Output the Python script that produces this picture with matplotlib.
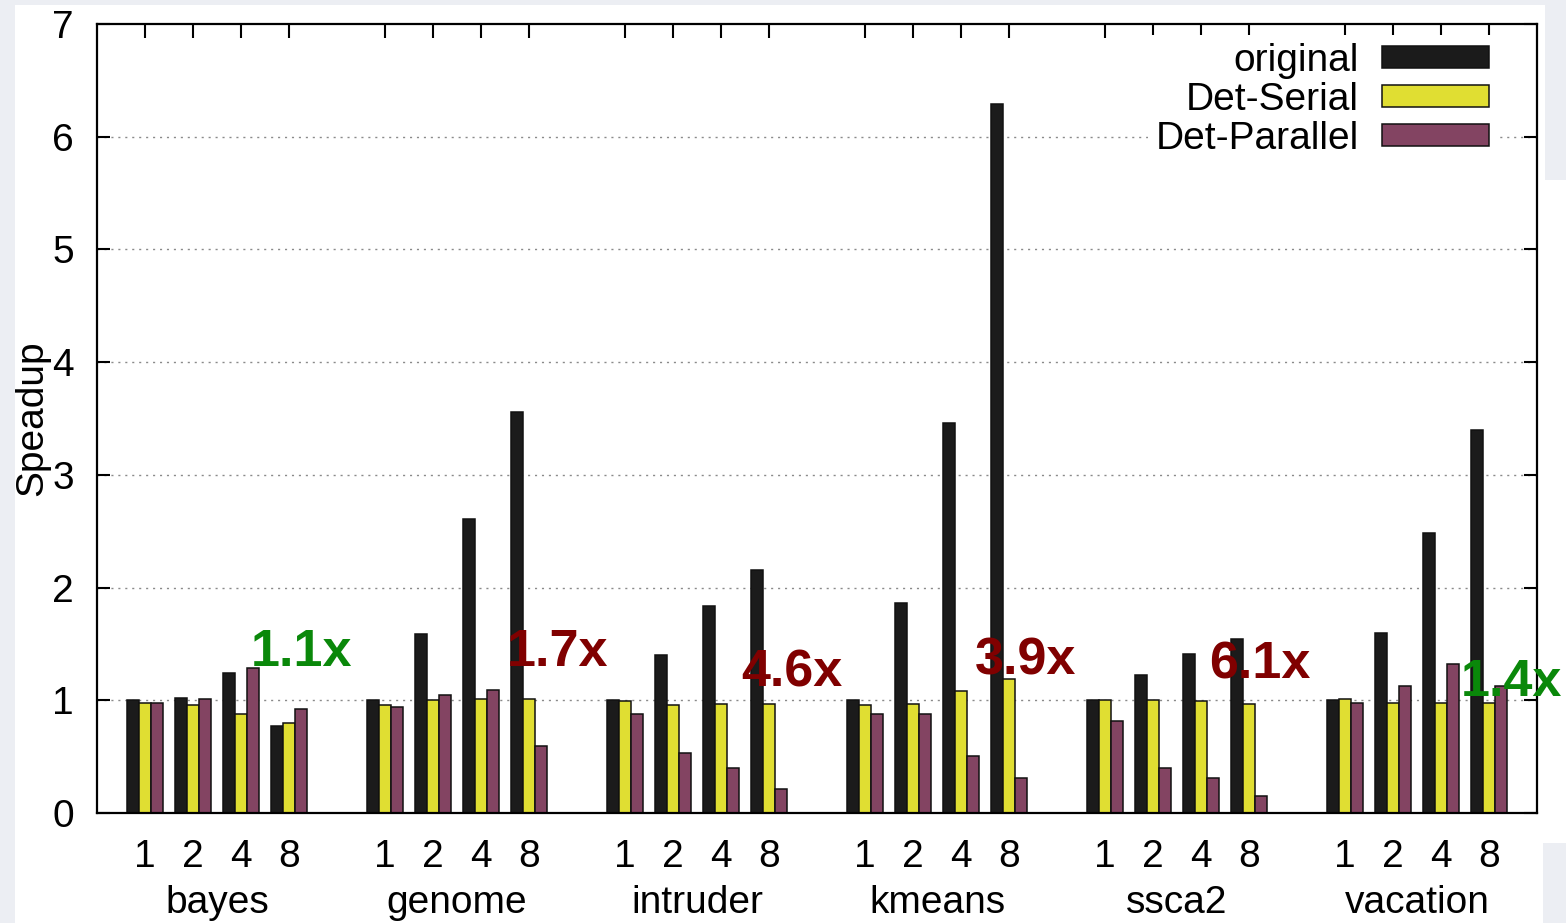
import numpy as np
import matplotlib.pyplot as plt
from matplotlib.patches import Patch, Rectangle

plt.rcParams['font.family'] = ['Liberation Sans', 'DejaVu Sans']

benchmarks = ['bayes', 'genome', 'intruder', 'kmeans', 'ssca2', 'vacation']
threads = ['1', '2', '4', '8']

# speedup per benchmark, per thread count (1, 2, 4, 8)
original = [
    [1.00, 1.02, 1.24, 0.77],
    [1.00, 1.59, 2.61, 3.56],
    [1.00, 1.40, 1.84, 2.16],
    [1.00, 1.86, 3.46, 6.29],
    [1.00, 1.22, 1.41, 1.54],
    [1.00, 1.60, 2.48, 3.40],
]
det_serial = [
    [0.98, 0.96, 0.88, 0.80],
    [0.96, 1.00, 1.01, 1.01],
    [0.99, 0.96, 0.97, 0.97],
    [0.96, 0.97, 1.08, 1.19],
    [1.00, 1.00, 0.99, 0.97],
    [1.01, 0.98, 0.98, 0.98],
]
det_parallel = [
    [0.98, 1.01, 1.29, 0.92],
    [0.94, 1.05, 1.09, 0.59],
    [0.88, 0.53, 0.40, 0.21],
    [0.88, 0.88, 0.51, 0.31],
    [0.82, 0.40, 0.31, 0.15],
    [0.98, 1.13, 1.32, 1.13],
]
series_names = ['original', 'Det-Serial', 'Det-Parallel']
series_colors = ['#1b1b1b', '#e0de32', '#834462']

ratio_labels = ['1.1x', '1.7x', '4.6x', '3.9x', '6.1x', '1.4x']
ratio_colors = ['#0a880a', '#800000', '#800000', '#800000', '#800000', '#0a880a']
# label anchor: offset from group start (in slots) and baseline height
ratio_dx = [3.27, 3.60, 3.48, 3.35, 3.23, 3.46]
ratio_y = [1.30, 1.30, 1.12, 1.23, 1.19, 1.04]

FS = 28

fig = plt.figure(figsize=(15.66, 9.23), dpi=100, facecolor='white')
# light screenshot border
for r in [(0, 0, 15/1566, 1), (0, 918/923, 1, 5/923),
          (1545/1566, 743/923, 21/1566, 180/923), (1543/1566, 0, 23/1566, 80/923)]:
    fig.patches.append(Rectangle(r[:2], r[2], r[3], transform=fig.transFigure,
                                 facecolor='#eceef3', edgecolor='none', zorder=-10))

ax = fig.add_axes([97/1566, 110/923, 1440/1566, 789/923])

n_thr = len(threads)
slots = []
for g in range(len(benchmarks)):
    for t in range(n_thr):
        slots.append(g * (n_thr + 1) + t)
slots = np.array(slots)

w = 0.25
for k, data in enumerate([original, det_serial, det_parallel]):
    vals = np.array(data).ravel()
    ax.bar(slots + (k - 1) * w, vals, width=w, color=series_colors[k],
           edgecolor='#111111', linewidth=1.1, zorder=2)

for g in range(len(benchmarks)):
    gx = g * (n_thr + 1)
    ax.text(gx + ratio_dx[g], ratio_y[g], ratio_labels[g], color=ratio_colors[g],
            fontsize=37.5, fontweight='bold', ha='center', va='baseline', zorder=4)
    ax.text(gx + (n_thr - 1) / 2, -0.1267, benchmarks[g], fontsize=FS,
            ha='center', va='baseline', transform=ax.get_xaxis_transform())

ax.set_xlim(-1, slots[-1] + 1)
ax.set_ylim(0, 7)
ax.set_xticks(slots)
ax.set_xticklabels(threads * len(benchmarks))
ax.set_yticks(range(8))

ax.tick_params(axis='x', which='both', bottom=False, top=True, direction='in',
               length=10, width=1.5, labelsize=FS, pad=19)
ax.tick_params(axis='y', which='both', left=True, right=True, direction='in',
               length=9.5, width=1.5, labelsize=FS, pad=16.5)
for s in ax.spines.values():
    s.set_linewidth(1.6)

ax.set_axisbelow(True)
for yv in range(1, 7):
    ax.axhline(yv, color='#8a8a8a', linestyle=(0, (1.5, 3.5)), linewidth=1.0, zorder=0)

fig.text(32/1566, 1 - 418/923, 'Speadup', rotation=90, ha='center', va='center', fontsize=FS)

handles = [Patch(facecolor=c, edgecolor='#111111', linewidth=1.1) for c in series_colors]
ax.legend(handles, series_names, loc='upper right', bbox_to_anchor=(0.9722, 0.986),
          markerfirst=False, fontsize=FS, frameon=True, facecolor='white',
          edgecolor='none', framealpha=1, fancybox=False, borderpad=0.2,
          handlelength=2.75, handleheight=0.5, handletextpad=0.6,
          labelspacing=0.075, borderaxespad=0)

fig.savefig('out.png', dpi=100, facecolor=fig.get_facecolor())
